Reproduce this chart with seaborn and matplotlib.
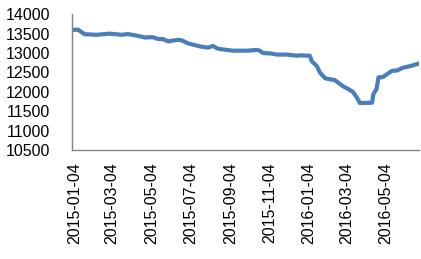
import matplotlib
matplotlib.use("Agg")
import matplotlib.pyplot as plt
import matplotlib.dates as mdates
import seaborn as sns
import pandas as pd

dates = ["2015-01-01", "2015-01-10", "2015-01-20", "2015-02-08", "2015-02-28", "2015-03-19",
         "2015-03-28", "2015-04-11", "2015-04-24", "2015-05-06", "2015-05-15", "2015-05-22",
         "2015-05-30", "2015-06-14", "2015-06-20", "2015-06-30", "2015-07-19", "2015-07-31",
         "2015-08-08", "2015-08-16", "2015-09-08", "2015-09-30", "2015-10-16", "2015-10-20",
         "2015-10-25", "2015-11-05", "2015-11-16", "2015-12-01", "2015-12-17", "2015-12-22",
         "2016-01-06", "2016-01-09", "2016-01-17", "2016-01-22", "2016-01-30", "2016-02-01",
         "2016-02-14", "2016-02-19", "2016-02-27", "2016-03-06", "2016-03-13", "2016-03-19",
         "2016-03-24", "2016-04-12", "2016-04-14", "2016-04-19", "2016-04-22", "2016-04-29",
         "2016-05-05", "2016-05-13", "2016-05-21", "2016-05-30", "2016-06-10", "2016-06-24"]
values = [13600, 13600, 13485, 13470, 13500, 13470,
          13490, 13450, 13400, 13410, 13360, 13360,
          13300, 13340, 13330, 13250, 13170, 13140,
          13180, 13110, 13060, 13060, 13080, 13060,
          13000, 12990, 12960, 12960, 12930, 12940,
          12930, 12790, 12660, 12490, 12350, 12340,
          12300, 12240, 12140, 12070, 12000, 11860,
          11710, 11720, 11940, 12070, 12370, 12380,
          12450, 12540, 12550, 12620, 12660, 12730]
tick_labels = ["2015-01-04", "2015-03-04", "2015-05-04", "2015-07-04", "2015-09-04",
               "2015-11-04", "2016-01-04", "2016-03-04", "2016-05-04"]
y_ticks = [10500, 11000, 11500, 12000, 12500, 13000, 13500, 14000]

df = pd.DataFrame({"date": pd.to_datetime(dates), "value": values})

sns.set_style("white")
plt.rcParams['font.family'] = ['Liberation Sans', 'DejaVu Sans']

fig = plt.figure(figsize=(4.21, 2.59), dpi=100)
ax = fig.add_axes([0.172, 0.421, 0.823, 0.524])
sns.lineplot(data=df, x="date", y="value", ax=ax, color="#4A7EBB", linewidth=3.0)

ax.set_xlim(pd.Timestamp("2015-01-01"), pd.Timestamp("2016-06-24"))
ax.set_ylim(10500, 14000)
ax.set_yticks(y_ticks)
ax.set_yticklabels([str(v) for v in y_ticks])
ax.set_xticks(pd.to_datetime(tick_labels))
ax.set_xticklabels(tick_labels, rotation=90)
ax.set_xlabel("")
ax.set_ylabel("")

for s in ["top", "right"]:
    ax.spines[s].set_visible(False)
for s in ["left", "bottom"]:
    ax.spines[s].set_color("#868686")
    ax.spines[s].set_linewidth(1.0)

ax.tick_params(axis="y", direction="in", length=4.3, width=1.0, color="#868686",
               labelsize=11.5, pad=16, labelcolor="black")
ax.tick_params(axis="x", length=0, labelsize=11.5, pad=9, labelcolor="black")

fig.savefig("out.png", dpi=100)
